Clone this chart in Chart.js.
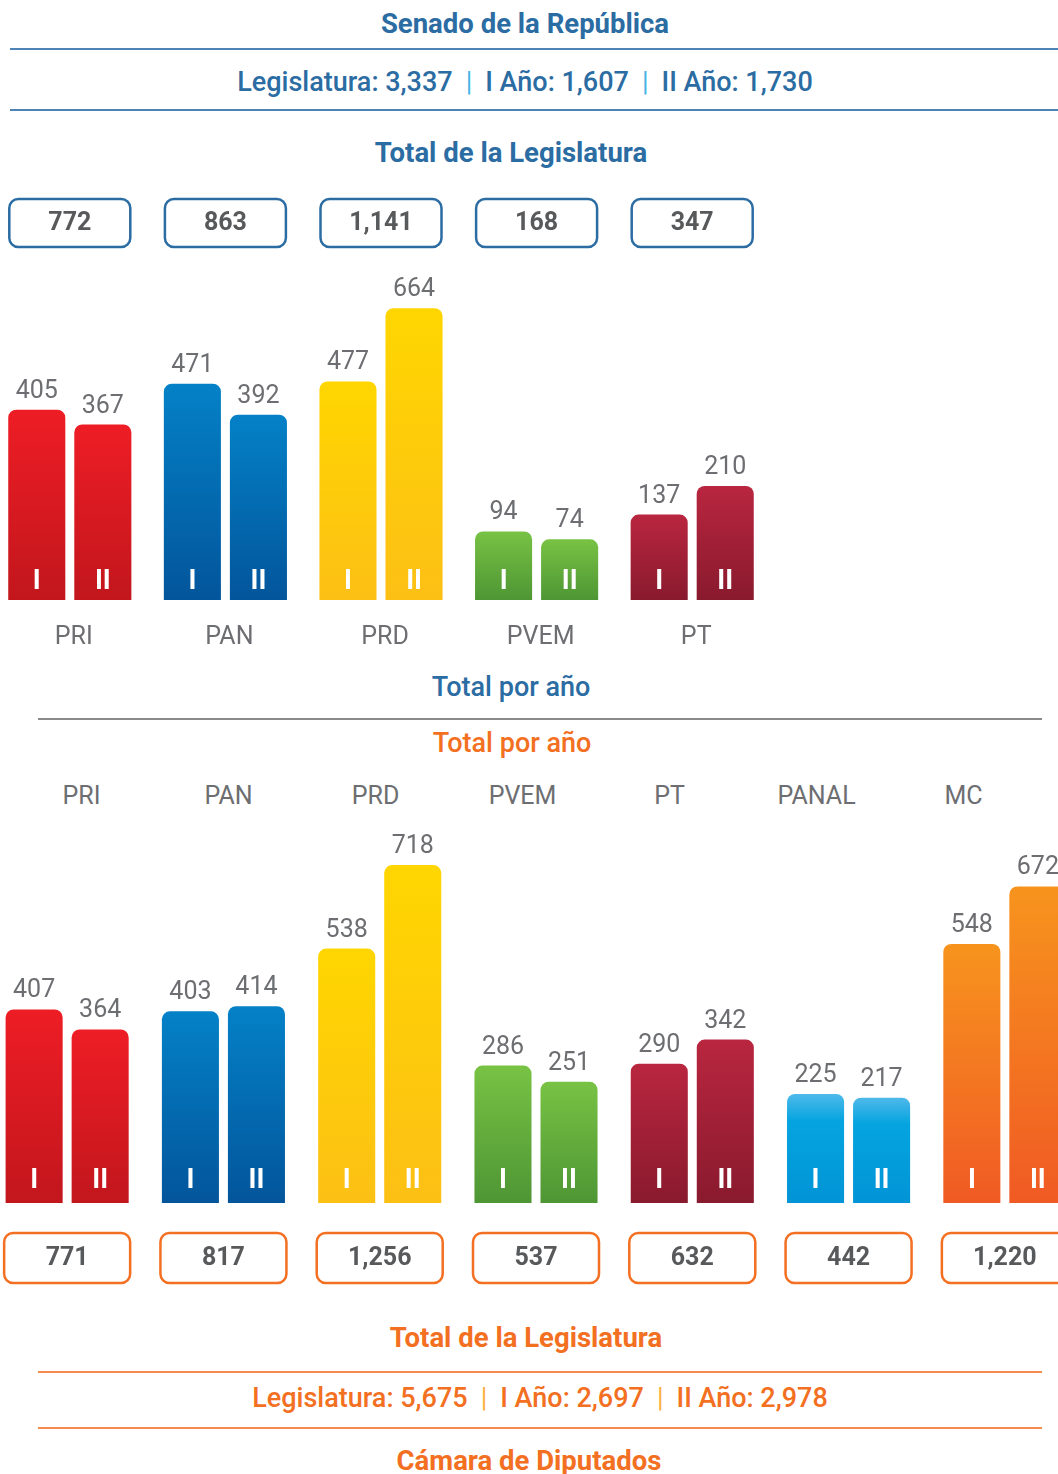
<!DOCTYPE html>
<html>
<head>
<meta charset="utf-8">
<script src="https://cdn.jsdelivr.net/npm/chart.js@4.4.0/dist/chart.umd.min.js"></script>
<style>
  html, body { margin: 0; padding: 0; background: #fff; overflow: hidden; }
  #page { position: relative; width: 1058px; height: 1474px; overflow: hidden; font-family: Roboto, "Noto Sans", sans-serif; }
  .t { position: absolute; width: 700px; text-align: center; line-height: 30px; white-space: nowrap; }
  .blue { color: #2b6ca3; }
  .orange { color: #f36f21; }
  .b7 { font-weight: 700; font-size: 27.5px; }
  .b5 { font-weight: 500; font-size: 27px; }
  .sep { margin: 0 13px; font-weight: 400; }
  .blue .sep { color: #45b5e5; }
  .orange .sep { color: #fbb040; }
  .rule { position: absolute; height: 0; border-top: 2px solid; }
  #names { position: absolute; left: 8px; top: 781px; display: flex; }
  #names span { width: 147px; text-align: center; font-size: 25px; line-height: 30px; color: #6d6e71; }
  canvas { position: absolute; }
</style>
</head>
<body>
<div id="page">
  <div class="t blue b7" style="left:175px; top:9px;">Senado de la República</div>
  <div class="rule" style="left:10px; width:1048px; top:48px; border-color:#4f83b5;"></div>
  <div class="t blue b5" id="senSummary" style="left:175px; top:67px;"></div>
  <div class="rule" style="left:10px; width:1048px; top:109px; border-color:#4f83b5;"></div>
  <div class="t blue b7" style="left:161px; top:138px;">Total de la Legislatura</div>

  <canvas id="senado" width="778" height="480" style="left:-8px; top:180px;"></canvas>

  <div class="t blue b5" style="left:161px; top:672px;">Total por año</div>
  <div class="rule" style="left:38px; width:1004px; top:718px; border-color:#8a8a8a;"></div>
  <div class="t orange b5" style="left:162px; top:728px;">Total por año</div>
  <div id="names"></div>

  <canvas id="diputados" width="1094" height="480" style="left:-11px; top:820px;"></canvas>

  <div class="t orange b7" style="left:176px; top:1323px;">Total de la Legislatura</div>
  <div class="rule" style="left:38px; width:1004px; top:1371px; border-color:#f58a4c;"></div>
  <div class="t orange b5" id="dipSummary" style="left:190px; top:1383px;"></div>
  <div class="rule" style="left:38px; width:1004px; top:1427px; border-color:#f58a4c;"></div>
  <div class="t orange b7" style="left:179px; top:1446px;">Cámara de Diputados</div>
</div>
<script>
// ---- data ----
const yearLabels = ['I', 'II'];

const senadoParties = ['PRI', 'PAN', 'PRD', 'PVEM', 'PT'];
const senadoYear1 = [405, 471, 477, 94, 137];
const senadoYear2 = [367, 392, 664, 74, 210];
const senadoTotals = [772, 863, 1141, 168, 347];
const senadoSummary = [3337, 1607, 1730]; // legislatura, I año, II año

const diputadosParties = ['PRI', 'PAN', 'PRD', 'PVEM', 'PT', 'PANAL', 'MC'];
const diputadosYear1 = [407, 403, 538, 286, 290, 225, 548];
const diputadosYear2 = [364, 414, 718, 251, 342, 217, 672];
const diputadosTotals = [771, 817, 1256, 537, 632, 442, 1220];
const diputadosSummary = [5675, 2697, 2978];

// party colours, top -> bottom of each bar
const partyColors = {
  PRI:   ['#ee1d25', '#c2161d'],
  PAN:   ['#0481c7', '#03559b'],
  PRD:   ['#ffd600', '#fcc015'],
  PVEM:  ['#78c244', '#4e9634'],
  PT:    ['#b9263f', '#891a2e'],
  PANAL: ['#4fb9ea', '#0194d6'],
  MC:    ['#f7941d', '#f05a24']
};

const fmt = n => n.toLocaleString('en-US');

function summaryHtml(vals){
  return `Legislatura: ${fmt(vals[0])}<span class="sep">|</span>I Año: ${fmt(vals[1])}<span class="sep">|</span>II Año: ${fmt(vals[2])}`;
}
document.getElementById('senSummary').innerHTML = summaryHtml(senadoSummary);
document.getElementById('dipSummary').innerHTML = summaryHtml(diputadosSummary);
document.getElementById('names').innerHTML = diputadosParties.map(p => `<span>${p}</span>`).join('');

// per-bar vertical gradient
function barFill(parties){
  return (c) => {
    const cols = partyColors[parties[c.dataIndex]] || ['#999', '#666'];
    const {chart} = c;
    if(c.type !== 'data' || !chart.chartArea) return cols[0];
    const top = chart.scales.y.getPixelForValue(c.raw);
    const g = chart.ctx.createLinearGradient(0, top, 0, chart.chartArea.bottom);
    g.addColorStop(0, cols[0]);
    if(parties[c.dataIndex] === 'PANAL') g.addColorStop(0.25, '#05a4e0');
    g.addColorStop(1, cols[1]);
    return g;
  };
}

// value labels, I / II marks, total boxes, names
const decor = {
  id: 'decor',
  afterDatasetsDraw(chart, args, o){
    const {ctx, chartArea} = chart;
    const xs = chart.scales.x;
    ctx.save();
    ctx.textAlign = 'center';
    chart.data.datasets.forEach((ds, di) => {
      chart.getDatasetMeta(di).data.forEach((bar, i) => {
        ctx.fillStyle = '#6d6e71';
        ctx.font = '400 25px Roboto';
        ctx.textBaseline = 'alphabetic';
        ctx.fillText(fmt(ds.data[i]), bar.x, bar.y - 12);
        ctx.fillStyle = '#ffffff';
        ctx.font = '700 27px Roboto';
        ctx.textBaseline = 'middle';
        ctx.fillText(yearLabels[di], bar.x, chartArea.bottom - o.markOffset);
      });
    });
    o.totals.forEach((t, i) => {
      const cx = xs.getPixelForValue(i);
      const y = o.boxesAbove ? chartArea.top + o.boxGap : chartArea.bottom + o.boxGap;
      ctx.beginPath();
      ctx.roundRect(cx - o.boxW / 2, y, o.boxW, o.boxH, 9);
      ctx.lineWidth = 2.5;
      ctx.strokeStyle = o.boxColor;
      ctx.stroke();
      ctx.fillStyle = '#58595b';
      ctx.font = '700 25px Roboto';
      ctx.textBaseline = 'middle';
      ctx.fillText(fmt(t), cx, y + o.boxH / 2 + 1);
    });
    if(o.names){
      ctx.fillStyle = '#6d6e71';
      ctx.font = '400 25px Roboto';
      ctx.textBaseline = 'middle';
      o.names.forEach((n, i) => ctx.fillText(n, xs.getPixelForValue(i) + 4, chartArea.bottom + 38));
    }
    ctx.restore();
  }
};

function makeChart(id, parties, y1, y2, yMin, yMax, catPct, pad, decorOpts){
  const common = {
    base: yMin,
    borderWidth: 0,
    borderRadius: 8,
    borderSkipped: 'start',
    categoryPercentage: catPct,
    barPercentage: 0.864,
    backgroundColor: barFill(parties)
  };
  return new Chart(document.getElementById(id), {
    type: 'bar',
    data: {
      labels: parties,
      datasets: [
        Object.assign({label: yearLabels[0], data: y1}, common),
        Object.assign({label: yearLabels[1], data: y2}, common)
      ]
    },
    options: {
      responsive: false,
      animation: false,
      layout: {padding: pad},
      plugins: {legend: {display: false}, tooltip: {enabled: false}, decor: decorOpts},
      scales: {
        x: {display: false},
        y: {display: false, min: yMin, max: yMax}
      }
    },
    plugins: [decor]
  });
}

makeChart('senado', senadoParties, senadoYear1, senadoYear2, -81, 787, 0.849,
  {top: 80, bottom: 60, left: 0, right: 0},
  {totals: senadoTotals, boxesAbove: true, boxGap: -61, boxW: 121, boxH: 48,
   boxColor: '#2b6ca3', markOffset: 18, names: senadoParties});

makeChart('diputados', diputadosParties, diputadosYear1, diputadosYear2, -10, 772, 0.845,
  {top: 20, bottom: 97, left: 0, right: 0},
  {totals: diputadosTotals, boxesAbove: false, boxGap: 30, boxW: 126, boxH: 50,
   boxColor: '#f36f21', markOffset: 22, names: null});
</script>
</body>
</html>
